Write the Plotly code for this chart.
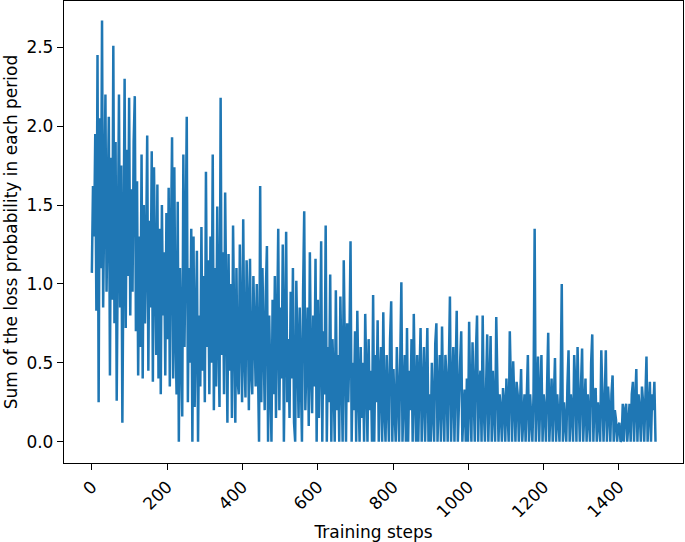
import plotly.graph_objects as go

# training step index (every 3rd step)
steps = list(range(0, 1500, 3))

# loss-probability sum, one row per 30 steps
loss = [
    1.07, 1.62, 1.30, 1.95, 0.83, 2.45, 0.25, 2.05, 1.10, 2.67,
    0.85, 1.70, 2.20, 0.95, 1.55, 2.06, 0.42, 1.80, 0.90, 2.51,
    0.75, 1.90, 0.26, 1.40, 2.20, 0.85, 1.75, 0.12, 1.20, 2.30,
    0.72, 1.85, 1.05, 2.18, 0.80, 1.60, 0.95, 1.90, 2.19, 0.70,
    1.65, 0.42, 1.30, 0.60, 1.82, 0.40, 1.50, 0.75, 1.20, 1.94,
    0.45, 1.40, 0.85, 1.84, 0.38, 1.74, 1.10, 0.55, 1.63, 0.40,
    1.35, 0.30, 1.50, 0.80, 1.20, 0.42, 1.45, 0.65, 1.61, 0.35,
    1.25, 1.93, 0.40, 1.74, 0.70, 0.30, 1.52, 0.00, 1.10, 0.45,
    0.16, 1.82, 0.60, 1.25, 2.06, 0.25, 1.10, 0.50, 1.35, 0.00,
    1.30, 0.22, 0.90, 1.21, 0.00, 0.80, 0.35, 1.36, 0.45, 1.05,
    0.25, 1.71, 0.60, 1.15, 0.30, 1.30, 0.50, 1.82, 0.20, 1.10,
    0.35, 1.49, 0.70, 0.22, 2.18, 0.55, 1.20, 0.30, 1.58, 0.80,
    0.12, 1.19, 0.45, 1.00, 0.15, 1.37, 0.60, 0.12, 1.10, 0.40,
    0.30, 1.25, 0.70, 0.25, 1.41, 0.55, 0.28, 1.15, 0.85, 0.20,
    1.16, 0.45, 0.30, 1.05, 0.70, 0.35, 1.00, 0.50, 0.00, 1.62,
    0.25, 1.10, 0.60, 0.20, 0.95, 1.24, 0.00, 0.80, 0.40, 0.00,
    0.90, 0.30, 1.05, 0.15, 0.70, 1.35, 0.20, 0.85, 0.40, 1.25,
    0.00, 0.90, 1.33, 0.25, 0.65, 0.15, 0.95, 0.40, 1.10, 0.12,
    0.00, 1.02, 0.50, 0.15, 0.85, 0.30, 0.00, 0.95, 1.46, 0.20,
    0.60, 0.85, 0.10, 1.20, 0.45, 0.18, 0.80, 0.35, 1.16, 0.00,
    0.90, 0.15, 0.55, 1.27, 0.00, 0.70, 0.30, 1.37, 0.00, 0.60,
    0.25, 1.06, 0.00, 0.65, 0.40, 0.00, 0.96, 0.20, 0.55, 0.00,
    0.92, 0.30, 0.00, 1.15, 0.45, 0.00, 0.75, 0.25, 0.60, 1.27,
    0.00, 0.50, 0.20, 0.70, 0.00, 0.83, 0.35, 0.00, 0.60, 0.15,
    0.50, 0.00, 0.81, 0.30, 0.00, 0.65, 0.20, 0.45, 0.00, 0.93,
    0.00, 0.55, 0.25, 0.77, 0.00, 0.40, 0.60, 0.00, 0.82, 0.20,
    0.00, 0.55, 0.30, 0.00, 0.65, 0.89, 0.00, 0.46, 0.20, 0.00,
    0.60, 0.25, 0.00, 0.50, 1.01, 0.00, 0.35, 0.55, 0.00, 0.72,
    0.00, 0.45, 0.20, 0.65, 0.00, 0.81, 0.30, 0.00, 0.55, 0.00,
    0.40, 0.72, 0.00, 0.25, 0.60, 0.00, 0.45, 0.72, 0.00, 0.30,
    0.00, 0.50, 0.20, 0.00, 0.62, 0.75, 0.00, 0.35, 0.55, 0.00,
    0.73, 0.25, 0.00, 0.55, 0.40, 0.00, 0.45, 0.92, 0.00, 0.30,
    0.60, 0.00, 0.45, 0.83, 0.00, 0.35, 0.50, 0.70, 0.00, 0.20,
    0.33, 0.00, 0.40, 0.00, 0.76, 0.25, 0.00, 0.63, 0.30, 0.00,
    0.56, 0.80, 0.00, 0.35, 0.45, 0.00, 0.80, 0.20, 0.00, 0.40,
    0.68, 0.00, 0.30, 0.67, 0.00, 0.45, 0.20, 0.00, 0.79, 0.35,
    0.00, 0.30, 0.20, 0.00, 0.34, 0.25, 0.00, 0.40, 0.15, 0.00,
    0.70, 0.30, 0.00, 0.51, 0.20, 0.00, 0.38, 0.30, 0.00, 0.25,
    0.46, 0.00, 0.22, 0.30, 0.00, 0.40, 0.55, 0.00, 0.30, 0.15,
    0.00, 0.30, 1.35, 0.00, 0.40, 0.54, 0.00, 0.35, 0.55, 0.00,
    0.30, 0.20, 0.00, 0.35, 0.69, 0.00, 0.25, 0.40, 0.00, 0.30,
    0.53, 0.00, 0.30, 0.15, 0.00, 0.35, 1.00, 0.00, 0.25, 0.12,
    0.00, 0.35, 0.58, 0.00, 0.30, 0.20, 0.00, 0.55, 0.35, 0.00,
    0.60, 0.25, 0.00, 0.35, 0.59, 0.00, 0.20, 0.40, 0.00, 0.30,
    0.15, 0.00, 0.50, 0.68, 0.00, 0.30, 0.34, 0.00, 0.25, 0.10,
    0.00, 0.58, 0.30, 0.00, 0.25, 0.58, 0.00, 0.35, 0.20, 0.00,
    0.30, 0.42, 0.00, 0.20, 0.14, 0.00, 0.10, 0.12, 0.00, 0.01,
    0.24, 0.00, 0.20, 0.24, 0.00, 0.15, 0.24, 0.00, 0.30, 0.38,
    0.00, 0.25, 0.46, 0.00, 0.30, 0.20, 0.00, 0.35, 0.25, 0.00,
    0.30, 0.54, 0.00, 0.25, 0.38, 0.00, 0.30, 0.20, 0.38, 0.00,
]

x_ticks = [0, 200, 400, 600, 800, 1000, 1200, 1400]
y_ticks = [0.0, 0.5, 1.0, 1.5, 2.0, 2.5]

fig = go.Figure()
fig.add_trace(go.Scatter(x=steps, y=loss, mode='lines',
                         line=dict(color='#1f77b4', width=2.5)))

font = dict(family='DejaVu Sans', size=17, color='black')
axis_style = dict(showline=True, linecolor='black', linewidth=1.3, mirror=True,
                  ticks='outside', ticklen=6, tickwidth=1.3, tickcolor='black',
                  showgrid=False, zeroline=False, tickfont=font, automargin=False)

fig.update_xaxes(range=[-74, 1570], tickvals=x_ticks, tickangle=-45,
                 title=dict(text='Training steps', font=font, standoff=6),
                 **axis_style)
fig.update_yaxes(range=[-0.135, 2.793], tickvals=y_ticks, tickformat='.1f',
                 title=dict(text='Sum of the loss probability in each period', font=font, standoff=4),
                 **axis_style)

fig.update_layout(width=685, height=542, showlegend=False,
                  plot_bgcolor='white', paper_bgcolor='white',
                  margin=dict(l=64, r=2, t=1, b=79), font=font)

# page body has a default 8px margin; drop it so the figure sits at 0,0
fig.write_html("out.html", config={'displayModeBar': False},
               post_script="document.body.style.margin='0';")
